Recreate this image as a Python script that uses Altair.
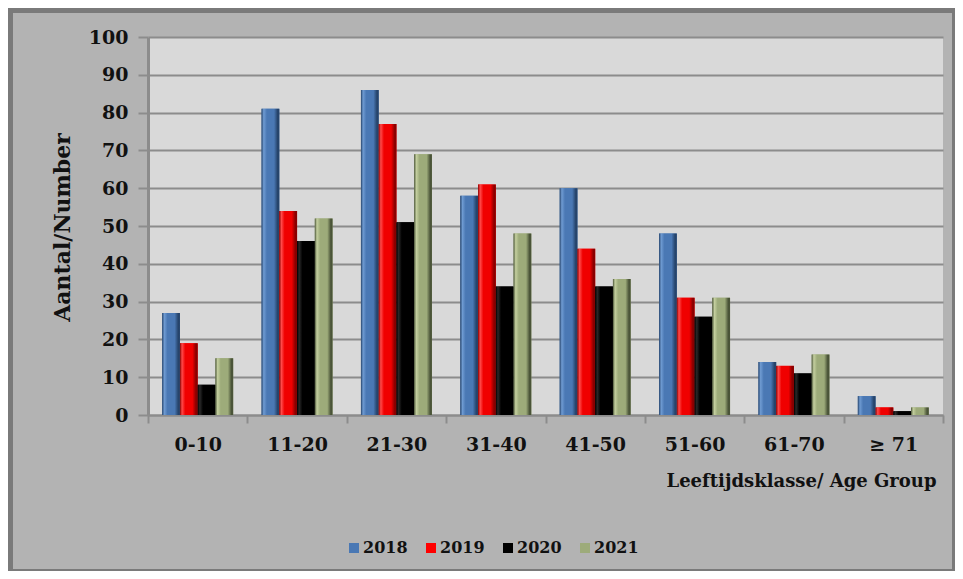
import altair as alt
import pandas as pd

groups = ["0-10", "11-20", "21-30", "31-40", "41-50", "51-60", "61-70", "≥ 71"]
years = ["2018", "2019", "2020", "2021"]
v2018 = [27, 81, 86, 58, 60, 48, 14, 5]
v2019 = [19, 54, 77, 61, 44, 31, 13, 2]
v2020 = [8, 46, 51, 34, 34, 26, 11, 1]
v2021 = [15, 52, 69, 48, 36, 31, 16, 2]
colors = ["#4a78b4", "#ff0000", "#000000", "#9dab7a"]
# shading for the bevelled bars: (left highlight, centre, right shadow)
shades = [("#6f9bd2", "#4a78b4", "#26446b"),
          ("#ff4a4a", "#f00000", "#8a0000"),
          ("#2a2a2a", "#000000", "#000000"),
          ("#c4cf9f", "#9dab7a", "#4a5438")]

rows = []
for y, vals in zip(years, [v2018, v2019, v2020, v2021]):
    for g, v in zip(groups, vals):
        rows.append({"group": g, "year": y, "value": v})
df = pd.DataFrame(rows)

FONT = "DejaVu Serif"

x_axis = alt.Axis(title="Leeftijdsklasse/ Age Group", labelAngle=0,
                  tickBand="extent", tickSize=8, tickColor="#8c8c8c",
                  tickWidth=2, domainColor="#8c8c8c", domainWidth=2,
                  labelPadding=12, labelFontSize=19, labelFont=FONT,
                  labelFontWeight="bold", labelColor="#111111",
                  titleFont=FONT, titleFontSize=18, titleFontWeight="bold",
                  titleColor="#111111", titleX=518, titleY=66,
                  titleAlign="left", titleBaseline="middle", grid=False)
y_axis = alt.Axis(title="Aantal/Number", values=list(range(0, 101, 10)),
                  tickSize=10, tickColor="#8c8c8c", tickWidth=2,
                  domainColor="#8c8c8c", domainWidth=3,
                  labelPadding=10, labelFontSize=19, labelFont=FONT,
                  labelFontWeight="bold", labelColor="#111111",
                  gridColor="#8c8c8c", gridWidth=2,
                  titleFont=FONT, titleFontSize=22, titleFontWeight="bold",
                  titleColor="#111111", titleX=-86, titleY=190,
                  titleAlign="center", titleBaseline="middle", titleAngle=-90)


def x_enc():
    return alt.X("group:N", sort=groups,
                 scale=alt.Scale(paddingInner=0, paddingOuter=0), axis=x_axis)


def xo_enc():
    return alt.XOffset("year:N", sort=years,
                       scale=alt.Scale(domain=years, paddingInner=0, paddingOuter=0.8))


def y_enc():
    return alt.Y("value:Q", scale=alt.Scale(domain=[0, 100], nice=False), axis=y_axis)


base = alt.Chart(df).mark_bar().encode(
    x=x_enc(), xOffset=xo_enc(), y=y_enc(),
    color=alt.Color("year:N", sort=years,
                    scale=alt.Scale(domain=years, range=colors),
                    legend=alt.Legend(title=None, orient="none", direction="horizontal",
                                      legendX=198, legendY=503, symbolType="square",
                                      symbolSize=100, symbolStrokeWidth=0,
                                      labelFont=FONT, labelFontSize=16,
                                      labelFontWeight="bold", labelColor="#111111",
                                      columnPadding=15, labelOffset=1)),
)

overlays = []
for yr, (hi, mid, lo) in zip(years, shades):
    grad = alt.Gradient(
        gradient="linear", x1=0, x2=1, y1=0, y2=0,
        stops=[alt.GradientStop(color=lo, offset=0),
               alt.GradientStop(color=hi, offset=0.12),
               alt.GradientStop(color=mid, offset=0.3),
               alt.GradientStop(color=mid, offset=0.7),
               alt.GradientStop(color=lo, offset=0.9),
               alt.GradientStop(color=lo, offset=1)])
    overlays.append(
        alt.Chart(df).transform_filter(alt.datum.year == yr)
        .mark_bar(color=grad)
        .encode(x=x_enc(), xOffset=xo_enc(), y=y_enc())
    )

frame = alt.Chart(df).mark_rect(fill=None, stroke="#7a7a7a", strokeWidth=5).encode(
    x=alt.value(-138), x2=alt.value(807), y=alt.value(-27), y2=alt.value(535)
)

chart = alt.layer(frame, base, *overlays).properties(
    width=795, height=378,
    autosize=alt.AutoSizeParams(type="none"),
    padding={"left": 140, "top": 29, "right": 12, "bottom": 156},
    background="#b3b3b3",
).configure_view(fill="#d9d9d9", stroke=None)

chart.save("out.html", embed_options={"renderer": "svg", "actions": False})
